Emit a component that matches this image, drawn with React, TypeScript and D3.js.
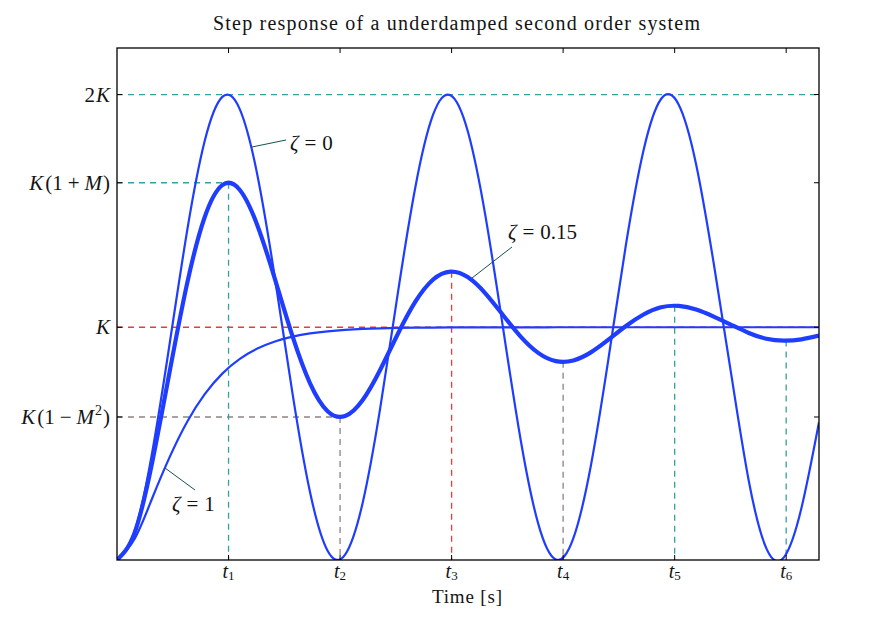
import React from "react";
import * as d3 from "d3";

// time samples (s, normalised ωn = 1)
const times = d3.range(0, 20.0001, 0.5);

// ζ = 0 response (read / sampled)
const zeta0 = [
  0, 0.1224, 0.4597, 0.9293, 1.4161, 1.8011, 1.99, 1.9365, 1.6536, 1.2108, 0.7163,
  0.2913, 0.0398, 0.0234, 0.2461, 0.6534, 1.1455, 1.602, 1.9111, 1.9972, 1.8391,
  1.4755, 0.9956, 0.5167, 0.1561, 0.0022, 0.0926, 0.4051, 0.8633, 1.3549, 1.7597,
  1.9809, 1.9577, 1.6998, 1.2752, 0.7979, 0.3397, 0.0501, 0.0113, 0.2233, 0.5919,
];

// ζ = 0.15 response
const zeta015 = [
  0, 0.1165, 0.4177, 0.8093, 1.1897, 1.474, 1.6109, 1.5899, 1.4376, 1.2071, 0.9616,
  0.759, 0.6394, 0.6185, 0.6872, 0.8175, 0.9711, 1.1099, 1.2043, 1.2392, 1.2148,
  1.145, 1.0519, 0.96, 0.89, 0.8547, 0.8574, 0.8922, 0.9466, 1.0055, 1.055,
  1.0858, 1.0917, 1.0763, 1.046, 1.0106, 0.9756, 0.9509, 0.9428, 0.9483, 0.964,
];

// ζ = 1 response
const zeta1 = [
  0, 0.0902, 0.2642, 0.4422, 0.594, 0.7127, 0.8009, 0.8641, 0.9084, 0.9389, 0.9596,
  0.9734, 0.9826, 0.9887, 0.9927, 0.9953, 0.997, 0.9981, 0.9988, 0.9992, 0.9995,
  0.9997, 0.9998, 0.9999, 0.9999, 1, 1, 1, 1, 1, 1,
  1, 1, 1, 1, 1, 1, 1, 1, 1, 1,
];

// peak / valley instants t1..t6 and the ζ = 0.15 response there
const tickTimes = [3.178, 6.355, 9.533, 12.71, 15.888, 19.065];
const tickNames = ["1", "2", "3", "4", "5", "6"];
const extremaValues = [1.621, 0.6145, 1.239, 0.8514, 1.0923, 0.9427];
const extremaColors = ["teal", "gray", "red", "gray", "teal", "teal"];

// y-axis levels
const yLevels = [2, 1.621, 1, 0.6145];

const W = 869;
const H = 623;
const L = 117, R = 819, T = 48, B = 560;

const COLORS: Record<string, string> = {
  teal: "#35a0a0",
  red: "#ec3a36",
  gray: "#8e8282",
};
const BLUE = "#1f3dff";
const FONT = "'Liberation Serif', 'DejaVu Serif', serif";
const INK = "#141414";

export default function App() {
  const x = d3.scaleLinear().domain([0, 20]).range([L, R]);
  const y = d3.scaleLinear().domain([0, 2.2]).range([B, T]);

  const mk = (vals: number[]) =>
    d3
      .line<number>()
      .x((_, i) => x(times[i]))
      .y((v) => y(v))
      .curve(d3.curveNatural)(vals) || "";

  const dash = "6,5";

  const yLabel = (i: number) => {
    const common = {
      x: L - 7,
      y: y(yLevels[i]) + 7,
      textAnchor: "end" as const,
      fontSize: 21,
      fontFamily: FONT,
      fill: INK,
    };
    if (i === 0)
      return (
        <text key={i} {...common}>
          2<tspan fontStyle="italic" dx={1}>K</tspan>
        </text>
      );
    if (i === 1)
      return (
        <text key={i} {...common}>
          <tspan fontStyle="italic">K</tspan>
          <tspan dx={2}>(1</tspan>
          <tspan dx={5}>+</tspan>
          <tspan dx={5} fontStyle="italic">M</tspan>
          <tspan dx={1}>)</tspan>
        </text>
      );
    if (i === 2)
      return (
        <text key={i} {...common}>
          <tspan fontStyle="italic">K</tspan>
        </text>
      );
    return (
      <text key={i} {...common}>
        <tspan fontStyle="italic">K</tspan>
        <tspan dx={2}>(1</tspan>
        <tspan dx={5}>−</tspan>
        <tspan dx={5} fontStyle="italic">M</tspan>
        <tspan fontSize={14} dy={-9} dx={1}>2</tspan>
        <tspan dy={9} dx={1}>)</tspan>
      </text>
    );
  };

  const zetaLabel = (xx: number, yy: number, v: string) => (
    <text x={xx} y={yy} fontSize={21} fontFamily={FONT} fill={INK}>
      <tspan fontStyle="italic">ζ</tspan>
      <tspan dx={6}>=</tspan>
      <tspan dx={6}>{v}</tspan>
    </text>
  );

  return (
    <svg width={W} height={H} style={{ display: "block", position: "absolute", left: 0, top: 0 }}>
      <rect x={0} y={0} width={W} height={H} fill="#fff" />
      <text
        x={213}
        y={30}
        fontSize={20}
        fontFamily={FONT}
        fill={INK}
        textLength={487}
        lengthAdjust="spacing"
      >
        Step response of a underdamped second order system
      </text>

      <defs>
        <clipPath id="plotclip">
          <rect x={L} y={T} width={R - L} height={B - T} />
        </clipPath>
      </defs>

      {/* guide lines */}
      <g fill="none" strokeWidth={1.3} strokeDasharray={dash}>
        <line x1={L} x2={R} y1={y(2)} y2={y(2)} stroke={COLORS.teal} />
        <line x1={L} x2={x(tickTimes[0])} y1={y(yLevels[1])} y2={y(yLevels[1])} stroke={COLORS.teal} />
        <line x1={L} x2={R} y1={y(1)} y2={y(1)} stroke={COLORS.red} />
        <line x1={L} x2={x(tickTimes[1])} y1={y(yLevels[3])} y2={y(yLevels[3])} stroke={COLORS.gray} />
        {tickTimes.map((t, i) => (
          <line key={i} x1={x(t)} x2={x(t)} y1={y(extremaValues[i])} y2={B} stroke={COLORS[extremaColors[i]]} />
        ))}
      </g>

      {/* curves */}
      <g clipPath="url(#plotclip)" fill="none" stroke={BLUE} strokeLinejoin="round">
        <path d={mk(zeta0)} strokeWidth={2.2} />
        <path d={mk(zeta1)} strokeWidth={2.2} />
        <path d={mk(zeta015)} strokeWidth={4.2} />
      </g>

      {/* frame */}
      <rect x={L} y={T} width={R - L} height={B - T} fill="none" stroke="#000" strokeWidth={1.3} />

      {/* ticks */}
      <g stroke="#000" strokeWidth={1}>
        {tickTimes.map((t, i) => (
          <g key={i}>
            <line x1={x(t)} x2={x(t)} y1={B} y2={B - 5} />
            <line x1={x(t)} x2={x(t)} y1={T} y2={T + 5} />
          </g>
        ))}
        {yLevels.map((v, i) => (
          <g key={i}>
            <line x1={L} x2={L + 5} y1={y(v)} y2={y(v)} />
            <line x1={R} x2={R - 5} y1={y(v)} y2={y(v)} />
          </g>
        ))}
      </g>

      {/* tick labels */}
      {tickTimes.map((t, i) => (
        <text key={i} x={x(t)} y={578} textAnchor="middle" fontSize={20} fontFamily={FONT} fill={INK}>
          <tspan fontStyle="italic">t</tspan>
          <tspan fontSize={13} dy={2}>{tickNames[i]}</tspan>
        </text>
      ))}
      {yLevels.map((_, i) => yLabel(i))}

      <text
        x={432}
        y={603}
        fontSize={19}
        fontFamily={FONT}
        fill={INK}
        textLength={70}
        lengthAdjust="spacing"
      >
        Time [s]
      </text>

      {/* annotations */}
      <g stroke="#1a5050" strokeWidth={1}>
        <line x1={252} y1={147} x2={286} y2={140} />
        <line x1={472} y1={278} x2={512} y2={247} />
        <line x1={165} y1={468} x2={195} y2={490} />
      </g>
      {zetaLabel(290, 150, "0")}
      {zetaLabel(508, 239, "0.15")}
      {zetaLabel(172, 511, "1")}
    </svg>
  );
}
